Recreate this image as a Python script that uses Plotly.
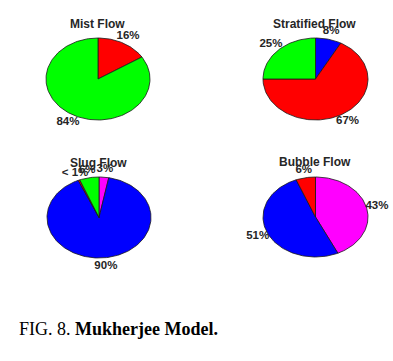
import math
import plotly.graph_objects as go

W, H = 393, 361

categories = ["Magenta", "Blue", "Red", "Green"]
colors = ["#FF00FF", "#0000FF", "#FF0000", "#00FF00"]

titles = ["Mist Flow", "Stratified Flow", "Slug Flow", "Bubble Flow"]
mist_values = [0, 0, 16, 84]
stratified_values = [0, 8, 67, 25]
slug_values = [3, 90, 0.5, 6]
bubble_values = [43, 51, 6, 0]
all_values = [mist_values, stratified_values, slug_values, bubble_values]

# panel geometry in pixels: center x, center y, radius x, radius y
panels = [(98, 79, 52, 41), (315.5, 79, 52.5, 41), (99, 217.5, 52, 40.5), (315.5, 217, 52.5, 40)]
R = 1.45

fig = go.Figure()
layout_axes = {}
annotations = []
for i, (vals, title, (cx, cy, rx, ry)) in enumerate(zip(all_values, titles, panels)):
    n = i + 1
    xa = "x" if n == 1 else f"x{n}"
    ya = "y" if n == 1 else f"y{n}"
    total = sum(vals)
    start = 0.0
    lx, ly, lt = [], [], []
    for v, c in zip(vals, colors):
        if v <= 0:
            continue
        frac = v / total
        a0, a1 = start, start + frac
        npts = max(4, int(frac * 200))
        xs, ys = [0.0], [0.0]
        for k in range(npts + 1):
            t = 2 * math.pi * (a0 + (a1 - a0) * k / npts)
            xs.append(math.sin(t))
            ys.append(math.cos(t))
        xs.append(0.0)
        ys.append(0.0)
        fig.add_trace(go.Scatter(x=xs, y=ys, fill="toself", fillcolor=c, mode="lines",
                                 line=dict(color="#1a1a1a", width=0.8), xaxis=xa, yaxis=ya,
                                 hoverinfo="skip", showlegend=False))
        mid = 2 * math.pi * (a0 + a1) / 2
        lx.append(1.2 * math.sin(mid))
        ly.append(1.2 * math.cos(mid))
        pct = frac * 100
        lt.append("< 1%" if pct < 1 else f"{round(pct)}%")
        start = a1
    fig.add_trace(go.Scatter(x=lx, y=ly, text=lt, mode="text", textposition="middle center",
                             textfont=dict(family="Liberation Sans, Arial", size=11.5, color="#262626", weight="bold"),
                             cliponaxis=False, xaxis=xa, yaxis=ya, hoverinfo="skip", showlegend=False))
    key = "" if n == 1 else str(n)
    layout_axes[f"xaxis{key}"] = dict(range=[-R, R], domain=[(cx - R * rx) / W, (cx + R * rx) / W],
                                       visible=False, fixedrange=True, anchor=ya)
    layout_axes[f"yaxis{key}"] = dict(range=[-R, R], domain=[1 - (cy + R * ry) / H, 1 - (cy - R * ry) / H],
                                       visible=False, fixedrange=True, anchor=xa)
    annotations.append(dict(text=f"<b>{title}</b>", x=(cx - 1) / W, y=1 - (cy - 55) / H, xref="paper", yref="paper",
                            showarrow=False, xanchor="center", yanchor="middle",
                            font=dict(family="Liberation Sans, Arial", size=12, color="#262626")))

annotations.append(dict(text="FIG. 8. <b>Mukherjee Model.</b>", x=17 / W, y=1 - 328.5 / H, xref="paper", yref="paper",
                        showarrow=False, xanchor="left", yanchor="middle",
                        font=dict(family="Liberation Serif, Times New Roman", size=18, color="#000000")))

fig.update_layout(width=W, height=H, margin=dict(l=0, r=0, t=0, b=0), paper_bgcolor="white",
                  plot_bgcolor="rgba(0,0,0,0)", annotations=annotations, **layout_axes)
fig.write_html("out.html")
